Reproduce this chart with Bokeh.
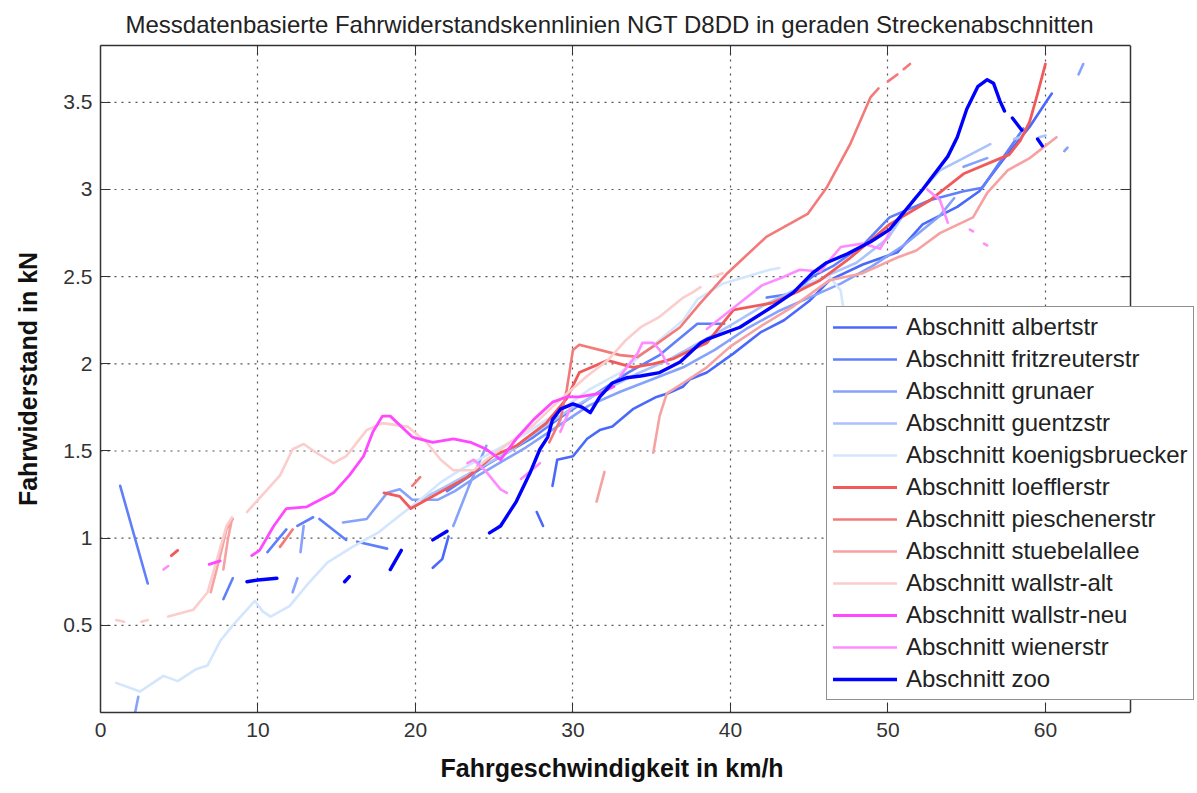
import math
from bokeh.plotting import figure
from bokeh.models import (Range1d, LinearAxis, FixedTicker, Legend, LegendItem, NumeralTickFormatter,
                          CustomJSTickFormatter, Title)
from bokeh.embed import file_html
from bokeh.resources import INLINE

N = None  # gap between measured segments

# speed v in km/h, running resistance f in kN, per track section
albertstr_v = [21.1, 21.7, 22.1, N, 27.7, 28.1, N, 28.7, 29.0, 30.0, 30.9, 31.7, 32.5, 33.8, 35.3, 36.0, 37.0, 37.4, 38.5,
               40.2, 41.9, 43.4, 45.0, 46.3, 48.4, 50.6, 52.2, 54.4, 55.8, 57.3, 59.0, 60.1, 60.4]
albertstr_f = [0.83, 0.88, 1.01, N, 1.15, 1.07, N, 1.30, 1.45, 1.47, 1.57, 1.62, 1.64, 1.74, 1.81, 1.83, 1.87, 1.91, 1.95,
               2.06, 2.18, 2.25, 2.36, 2.48, 2.57, 2.64, 2.80, 2.90, 2.99, 3.17, 3.36, 3.51, 3.55]

fritzreuterstr_v = [1.25, 3.0, N, 7.8, 8.4, N, 10.6, 11.8, N, 12.5, 13.5, N, 13.9, 15.6, N, 16.3, 18.2, N,
                    22.0, 23.0, 24.5, 26.0, 27.5, 29.0, 31.0, 33.5, 35.5, 37.9, 39.6, N,
                    42.3, 43.8, 45.2, 46.5, 48.4, 50.1, 52.7, 54.8, 56.0, 56.9, 57.9, 58.6]
fritzreuterstr_f = [1.30, 0.74, N, 0.65, 0.77, N, 0.92, 1.05, N, 1.07, 1.12, N, 1.11, 0.99, N, 0.98, 0.94, N,
                    1.27, 1.33, 1.42, 1.50, 1.58, 1.68, 1.80, 1.95, 2.05, 2.23, 2.23, N,
                    2.38, 2.40, 2.50, 2.56, 2.68, 2.84, 2.94, 2.99, 3.01, 3.13, 3.26, 3.35]

grunaer_v = [2.4, 2.2, N, 12.9, 12.7, N, 12.5, 12.2, N,
             15.4, 16.9, 18.2, 19.0, 19.8, 21.4, 22.5, 24.0, 25.5, 27.0, 29.0, 31.0, 33.0, 35.0, 37.0, 39.0,
             41.0, 43.0, 45.0, 47.0, 49.0, 51.0, 53.3, 54.2, N, 22.4, 23.4, 24.5, N, 54.8, 56.3, N,
             61.2, 61.4, N, 62.1, 62.4]
grunaer_f = [0.09, 0.0, N, 1.07, 0.92, N, 0.77, 0.69, N,
             1.09, 1.11, 1.26, 1.28, 1.22, 1.22, 1.27, 1.36, 1.44, 1.52, 1.64, 1.76, 1.84, 1.91, 1.98, 2.08,
             2.20, 2.30, 2.38, 2.46, 2.56, 2.68, 2.85, 2.95, N, 1.07, 1.30, 1.53, N, 3.13, 3.18, N,
             3.22, 3.24, N, 3.66, 3.72]

guentzstr_v = [20.3, 22.0, 24.0, 26.0, 28.0, 30.0, 32.0, 34.0, 36.0, 38.0, 40.0, 42.0, 44.0, 46.0, 48.0, 50.0,
               51.6, 53.3, 54.8, 56.5, N, 58.0, 58.4, N, 59.6, 60.0]
guentzstr_f = [1.22, 1.30, 1.40, 1.50, 1.63, 1.75, 1.85, 1.94, 2.02, 2.12, 2.22, 2.33, 2.42, 2.50, 2.58, 2.72,
               2.94, 3.11, 3.18, 3.26, N, 3.29, 3.30, N, 3.30, 3.31]

koenigsbruecker_v = [1.0, 2.5, 4.0, 4.9, 6.1, 6.8, 7.6, 8.4, 9.3, 9.8, 10.3, 10.8, 12.0, 13.1, 14.4, 16.0, 17.6,
                     19.0, 20.3, 21.6, 23.0, 25.0, 27.0, 29.0, 31.0, 33.0, 35.0, 37.0, 37.9, 39.5, 41.0, 42.5,
                     43.1, N, 45.0, 46.3, 47.0, 47.2]
koenigsbruecker_f = [0.17, 0.12, 0.21, 0.18, 0.25, 0.27, 0.41, 0.50, 0.59, 0.64, 0.58, 0.55, 0.61, 0.73, 0.86,
                     0.95, 1.03, 1.13, 1.22, 1.32, 1.40, 1.50, 1.60, 1.72, 1.85, 1.95, 2.10, 2.25, 2.37, 2.46,
                     2.50, 2.54, 2.55, N, 2.47, 2.50, 2.42, 2.30]

loefflerstr_v = [4.5, 4.9, N, 18.0, 19.0, 19.7, 21.1, 23.3, 24.9, 26.4, 28.3, 29.6, 30.4, 32.2, 33.8, 35.1, 36.4,
                 37.5, 38.5, 40.2, 42.7, 44.4, 45.7, 47.5, 50.1, 52.7, 54.8, 56.9, 57.7, 58.4, 59.0, 59.5, 60.0]
loefflerstr_f = [0.90, 0.93, N, 1.26, 1.24, 1.17, 1.24, 1.35, 1.47, 1.53, 1.66, 1.80, 1.95, 2.02, 1.98, 2.00,
                 2.03, 2.08, 2.12, 2.31, 2.35, 2.42, 2.48, 2.60, 2.80, 2.94, 3.09, 3.17, 3.20, 3.28, 3.39, 3.55,
                 3.72]

pieschenerstr_v = [11.4, 12.2, N, 19.8, 20.3, N, 28.5, 29.2, 29.6, 30.0, 30.4, 33.0, 34.1, 35.1, 36.8, 38.1,
                   39.8, 42.3, 44.9, 46.1, 47.6, 48.9, 49.4, N, 50.0, 50.6, N, 51.0, 51.4]
pieschenerstr_f = [0.95, 1.05, N, 1.30, 1.35, N, 1.55, 1.68, 1.85, 2.08, 2.11, 2.05, 2.04, 2.10, 2.21, 2.35,
                   2.52, 2.73, 2.86, 3.01, 3.26, 3.53, 3.58, N, 3.62, 3.66, N, 3.69, 3.72]

stuebelallee_v = [7.0, 7.6, 8.0, 8.4, N, 7.8, 8.1, 8.35, N, 31.5, 32.0, N, 35.1, 35.5, 35.96, 37.0, 38.5,
                  40.0, 42.0, 44.0, 46.3, 48.4, 50.6, 51.8, 53.3, 55.4, 56.3, 57.6, 59.0, 60.7]
stuebelallee_f = [0.69, 0.90, 1.05, 1.11, N, 0.82, 1.00, 1.11, N, 1.21, 1.38, N, 1.49, 1.70, 1.83, 1.89, 1.98,
                  2.10, 2.22, 2.33, 2.48, 2.52, 2.61, 2.65, 2.75, 2.84, 2.98, 3.11, 3.18, 3.30]

wallstr_alt_v = [1.0, 1.5, N, 2.6, 3.0, N, 4.3, 5.9, 6.8, 7.4, 8.0, 8.35, N, 9.3, 10.6, 11.4, 12.2, 12.9, 13.7,
                 14.8, 15.6, 16.9, 17.9, 19.5, 20.7, 21.6, 22.4, 23.7, 24.5, 26.0, 27.5, 29.0, 30.9, 32.2,
                 33.4, 34.3, 35.5, 37.0, 37.6, 38.1, N, 38.9, 39.5]
wallstr_alt_f = [0.53, 0.52, N, 0.52, 0.53, N, 0.55, 0.59, 0.69, 0.88, 1.07, 1.12, N, 1.15, 1.28, 1.36, 1.51,
                 1.54, 1.49, 1.43, 1.47, 1.62, 1.66, 1.64, 1.55, 1.45, 1.39, 1.39, 1.45, 1.55, 1.65, 1.78,
                 1.93, 2.02, 2.14, 2.21, 2.27, 2.38, 2.41, 2.44, N, 2.50, 2.52]

wallstr_neu_v = [6.9, 7.6, N, 9.6, 10.1, 11.0, 11.8, 13.1, 14.8, 15.8, 16.7, 17.3, 17.9, 18.4, 19.8, 21.1, 22.4,
                 23.5, 24.5, 25.4, 26.4, 27.5, 28.7, 29.6, 30.4, 31.7, 32.6]
wallstr_neu_f = [0.85, 0.87, N, 0.90, 0.93, 1.07, 1.17, 1.18, 1.26, 1.36, 1.47, 1.61, 1.70, 1.70, 1.58, 1.55,
                 1.57, 1.55, 1.51, 1.45, 1.57, 1.68, 1.78, 1.81, 1.81, 1.83, 1.87]

wienerstr_v = [4.0, 4.3, N, 23.3, 23.7, 24.5, 25.4, 25.8, N, 26.7, 27.9, N, 29.2, 29.8, N, 33.0, 34.1, 34.4,
               35.1, 35.5, 36.0, N, 38.5, 40.6, 42.0, 43.4, 44.4, 45.7, 47.0, 48.4, 49.5, 50.1, N, 52.5, 53.3,
               53.8, N, 55.2, 55.4, N, 56.1, 56.3]
wienerstr_f = [0.82, 0.84, N, 1.43, 1.45, 1.38, 1.28, 1.26, N, 1.34, 1.43, N, 1.61, 1.74, N, 1.93, 2.06, 2.12,
               2.12, 2.08, 2.00, N, 2.20, 2.35, 2.45, 2.50, 2.54, 2.53, 2.67, 2.69, 2.66, 2.75, N, 3.00, 2.94,
               2.81, N, 2.77, 2.76, N, 2.69, 2.68]

zoo_v = [9.3, 10.0, 11.2, N, 15.5, 15.8, N, 18.4, 19.1, N, 21.1, 22.0, N, 24.7, 25.4, 26.4, 27.3, 27.9, 28.4,
         28.7, 29.2, 30.0, 30.6, 31.1, 31.7, 32.5, 33.4, 34.3, 35.5, 36.8, 38.1, 38.5, 40.6, 42.7, 44.0, 45.2,
         46.1, 47.4, 48.9, 50.1, 51.2, 52.2, 53.8, 54.4, 55.0, 55.7, 56.3, 56.7, 57.1, 57.4, N, 57.9, 58.5, N,
         59.5, 59.8]
zoo_f = [0.75, 0.76, 0.77, N, 0.75, 0.78, N, 0.82, 0.93, N, 0.99, 1.04, N, 1.03, 1.07, 1.21, 1.38, 1.51, 1.58,
         1.68, 1.74, 1.77, 1.75, 1.72, 1.81, 1.89, 1.92, 1.93, 1.95, 2.01, 2.12, 2.14, 2.21, 2.33, 2.41, 2.52,
         2.58, 2.63, 2.70, 2.77, 2.89, 3.00, 3.19, 3.30, 3.46, 3.59, 3.63, 3.61, 3.51, 3.45, N, 3.41, 3.34, N,
         3.29, 3.25]

labels = ["Abschnitt albertstr", "Abschnitt fritzreuterstr", "Abschnitt grunaer", "Abschnitt guentzstr",
          "Abschnitt koenigsbruecker", "Abschnitt loefflerstr", "Abschnitt pieschenerstr",
          "Abschnitt stuebelallee", "Abschnitt wallstr-alt", "Abschnitt wallstr-neu", "Abschnitt wienerstr",
          "Abschnitt zoo"]
colors = ["#4a68fb", "#5f7ffb", "#86a2fa", "#abc3fb", "#d3e6fd", "#f25a5a", "#f47a7a", "#f7a2a2",
          "#fbcdcd", "#ff48ff", "#ff8cff", "#0000ff"]
widths = [2.6, 2.6, 2.6, 2.6, 2.6, 2.8, 2.6, 2.6, 2.6, 2.8, 2.6, 3.4]

xs = [albertstr_v, fritzreuterstr_v, grunaer_v, guentzstr_v, koenigsbruecker_v, loefflerstr_v,
      pieschenerstr_v, stuebelallee_v, wallstr_alt_v, wallstr_neu_v, wienerstr_v, zoo_v]
ys = [albertstr_f, fritzreuterstr_f, grunaer_f, guentzstr_f, koenigsbruecker_f, loefflerstr_f,
      pieschenerstr_f, stuebelallee_f, wallstr_alt_f, wallstr_neu_f, wienerstr_f, zoo_f]

x_ticks = [0, 10, 20, 30, 40, 50, 60]
y_ticks = [0.5, 1, 1.5, 2, 2.5, 3, 3.5]
X_MAX = 65.4   # right edge of the axes box
Y_MAX = 3.826  # top edge of the axes box


def nan_gaps(a):
    return [math.nan if t is None else t for t in a]


FONT = "Liberation Sans"
W, H = 1197, 793
LEFT, BOX_RIGHT = 100, 1130
# the drawing area runs to the right page edge so the legend may hang over the axes box
x_end = X_MAX * (W - LEFT) / (BOX_RIGHT - LEFT)
px_per_x = (BOX_RIGHT - LEFT) / X_MAX
TICK = 10  # inward tick length in px

p = figure(width=W, height=H, output_backend="svg", toolbar_location=None,
           x_range=Range1d(0, x_end), y_range=Range1d(0, Y_MAX),
           min_border_left=LEFT, min_border_right=0, min_border_top=45, min_border_bottom=78)
p.background_fill_color = "white"
p.border_fill_color = "white"
p.outline_line_color = None
p.ygrid.visible = False

p.title.text = "Messdatenbasierte Fahrwiderstandskennlinien NGT D8DD in geraden Streckenabschnitten"
p.title.align = "left"
p.title.offset = 25
p.title.standoff = 16
p.title.text_font = FONT
p.title.text_font_size = "24px"
p.title.text_font_style = "normal"
p.title.text_color = "#222222"

p.xaxis.ticker = FixedTicker(ticks=x_ticks)
p.yaxis.ticker = FixedTicker(ticks=y_ticks)
p.yaxis.formatter = NumeralTickFormatter(format="0.[0]")
p.xaxis.bounds = (0, X_MAX)
p.yaxis.axis_label = "Fahrwiderstand in kN"
for ax in (p.xaxis[0], p.yaxis[0]):
    ax.major_tick_in = TICK
    ax.major_tick_out = 0
    ax.minor_tick_in = 0
    ax.minor_tick_out = 0
    ax.axis_line_color = "#333333"
    ax.axis_line_width = 1.5
    ax.major_tick_line_color = "#333333"
    ax.major_label_text_font = FONT
    ax.major_label_text_font_size = "21px"
    ax.major_label_text_color = "#333333"
    ax.axis_label_text_font = FONT
    ax.axis_label_text_font_size = "25px"
    ax.axis_label_text_font_style = "bold"
    ax.axis_label_text_color = "#111111"
p.xaxis.major_label_standoff = 10
p.yaxis.major_label_standoff = 8
p.yaxis.axis_label_standoff = 18

xlabel = Title(text="Fahrgeschwindigkeit in km/h", align="left", offset=340, text_font=FONT,
               text_font_size="25px", text_font_style="bold", text_color="#111111", standoff=24)
p.add_layout(xlabel, "below")

# top edge of the box with inward ticks
top = LinearAxis(ticker=FixedTicker(ticks=x_ticks), bounds=(0, X_MAX),
                 formatter=CustomJSTickFormatter(code="return ''"),
                 major_tick_in=TICK, major_tick_out=0, minor_tick_in=0, minor_tick_out=0,
                 axis_line_color="#333333", axis_line_width=1.5, major_tick_line_color="#333333",
                 major_label_standoff=0)
p.add_layout(top, "above")

# horizontal dotted grid, limited to the box
p.segment(x0=[0] * len(y_ticks), y0=y_ticks, x1=[X_MAX] * len(y_ticks), y1=y_ticks,
          line_color="#555555", line_width=1.2, line_dash="2 5")
p.xgrid.grid_line_color = "#555555"
p.xgrid.grid_line_dash = "2 5"
p.xgrid.grid_line_width = 1.2

# right edge of the box with inward ticks
p.segment(x0=[X_MAX], y0=[0], x1=[X_MAX], y1=[Y_MAX], line_color="#333333", line_width=1.5)
p.segment(x0=[X_MAX] * len(y_ticks), y0=y_ticks, x1=[X_MAX - TICK / px_per_x] * len(y_ticks), y1=y_ticks,
          line_color="#333333", line_width=1)

items = []
for lab, col, w, vx, fy in zip(labels, colors, widths, xs, ys):
    r = p.line(nan_gaps(vx), nan_gaps(fy), line_color=col, line_width=w,
               line_cap="round", line_join="round")
    items.append(LegendItem(label=lab, renderers=[r]))

legend = Legend(items=items, location=(BOX_RIGHT - LEFT - 304, 12))
legend.border_line_color = "#222222"
legend.border_line_width = 1.5
legend.background_fill_color = "white"
legend.background_fill_alpha = 1.0
legend.label_text_font = FONT
legend.label_text_font_size = "24px"
legend.label_text_color = "#222222"
legend.glyph_width = 64
legend.glyph_height = 24
legend.label_height = 24
legend.spacing = 4
legend.padding = 6
legend.margin = 0
legend.label_standoff = 9
p.add_layout(legend)

open("out.html", "w").write(file_html(p, INLINE))
